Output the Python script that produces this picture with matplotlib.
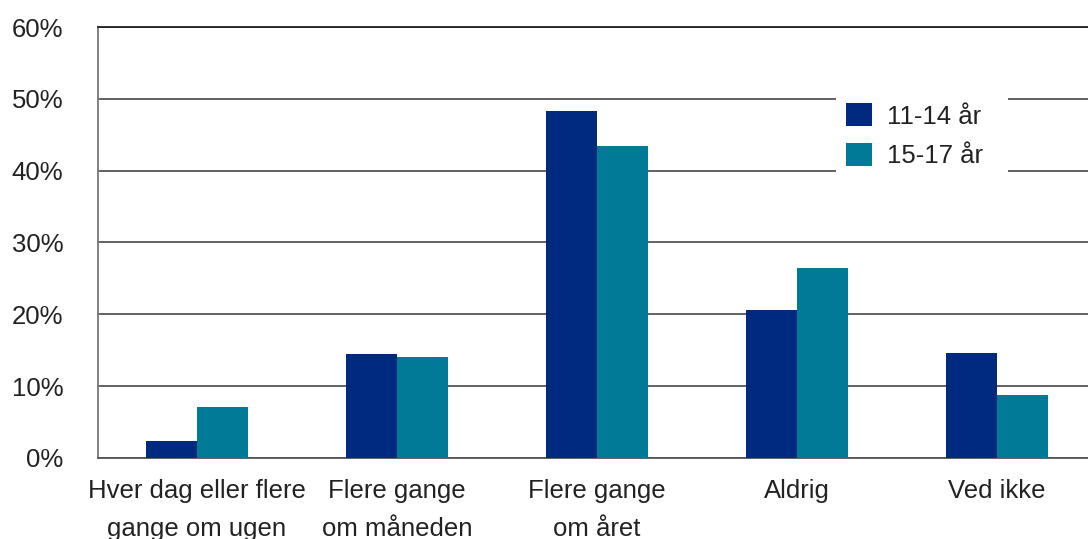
import numpy as np
import matplotlib
matplotlib.use("Agg")
import matplotlib.pyplot as plt

categories = ["Hver dag eller flere\ngange om ugen", "Flere gange\nom måneden",
              "Flere gange\nom året", "Aldrig", "Ved ikke"]
age_11_14 = [2.4, 14.5, 48.3, 20.6, 14.6]
age_15_17 = [7.1, 14.1, 43.5, 26.5, 8.8]
series_names = ["11-14 år", "15-17 år"]
yticks = [0, 10, 20, 30, 40, 50, 60]

plt.rcParams['font.family'] = ['Liberation Sans', 'DejaVu Sans']
text_col = '#222222'

fig = plt.figure(figsize=(10.88, 5.39), dpi=100)
ax = fig.add_axes([0.0901, 0.1503, 0.9191, 0.7996])

x = np.arange(len(categories))
w = 0.255
ax.bar(x - w/2, age_11_14, w, color='#002a80', label=series_names[0], zorder=3)
ax.bar(x + w/2, age_15_17, w, color='#007a96', label=series_names[1], zorder=3)

ax.set_xlim(-0.495, 4.505)
ax.set_ylim(0, 60)
ax.set_yticks(yticks)
ax.set_yticklabels([f"{t}%" for t in yticks])
ax.yaxis.grid(True, color='#555555', linewidth=1.3, zorder=1)
ax.set_axisbelow(True)
ax.set_xticks(x)
ax.set_xticklabels(categories, linespacing=1.72)
ax.tick_params(axis='both', length=0, labelsize=18.5, colors=text_col)
ax.tick_params(axis='y', pad=25)
ax.tick_params(axis='x', pad=15)

ax.spines['right'].set_visible(False)
ax.spines['left'].set_color('#777777')
ax.spines['left'].set_linewidth(1.3)
ax.spines['bottom'].set_color('#555555')
ax.spines['bottom'].set_linewidth(1.3)
ax.spines['top'].set_color('#222222')
ax.spines['top'].set_linewidth(1.3)

# legend sits on a white box that hides part of the gridlines
leg = ax.legend(loc='upper left', mode='expand',
                bbox_to_anchor=(0.738, (458-93)/431, 0.172, 0.0),
                frameon=True, fancybox=False, facecolor='white', edgecolor='none',
                framealpha=1, fontsize=18.5, handlelength=1.0, handleheight=1.0,
                handletextpad=0.6, labelspacing=0.55, borderpad=0.4,
                borderaxespad=0)
for t in leg.get_texts():
    t.set_color(text_col)
leg.set_zorder(5)

fig.savefig('out.png', dpi=100)
